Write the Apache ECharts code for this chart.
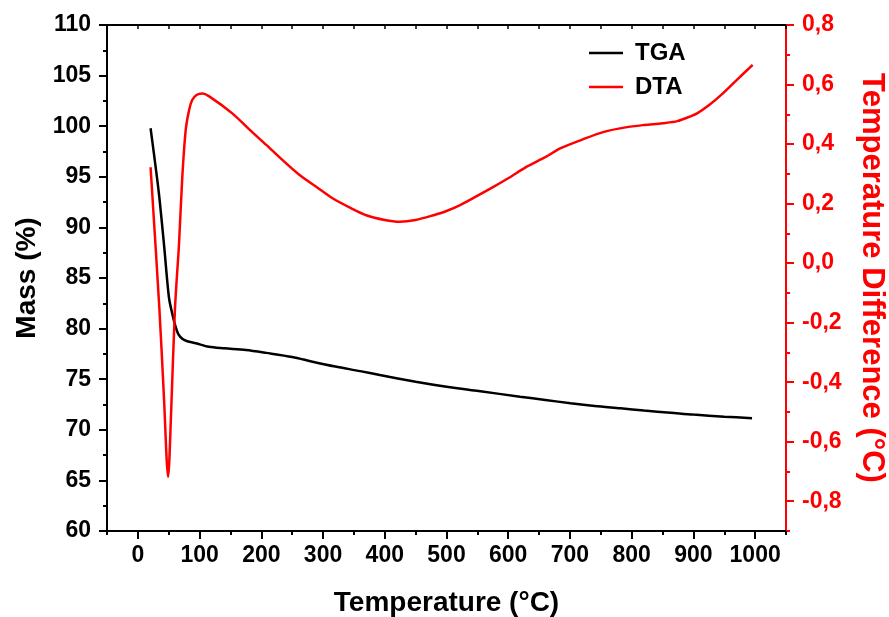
<!DOCTYPE html>
<html>
<head>
<meta charset="utf-8">
<script src="https://cdn.jsdelivr.net/npm/echarts@6/dist/echarts.min.js"></script>
<style>html,body{margin:0;padding:0;background:#fff}#c{width:889px;height:617px}</style>
</head>
<body>
<div id="c"></div>
<script>
// TGA: temperature (°C) and mass (%)
const tgaTemp = [20.6,26,34.1,42.2,50.3,56,61.1,66,72,80,94,115,140,175,208,250,283,320,360,392,450,500,538,552,619,660,701,740,782,820,863,900,950,995];
const tgaMass = [99.8,97.3,93.35,88.4,83.1,81.4,80.2,79.4,79.0,78.75,78.55,78.2,78.05,77.88,77.6,77.2,76.73,76.25,75.8,75.41,74.75,74.25,73.93,73.83,73.27,72.95,72.62,72.35,72.12,71.9,71.69,71.5,71.3,71.14];
// DTA: temperature (°C) and temperature difference (°C)
const dtaTemp = [20.6,35,42,49,54,60,66.7,72,77.5,83,88,95,104.6,115,153,180,208,235,262,290,316,345,370,400,424,450,479,500,522,549,576,600,630,660,685,720,755,790,820,850,874,895,906,925,945,970,996];
const dtaDiff = [0.322,-0.158,-0.44,-0.718,-0.494,-0.158,0.066,0.29,0.447,0.514,0.548,0.565,0.570,0.561,0.503,0.45,0.397,0.345,0.296,0.255,0.217,0.185,0.161,0.145,0.139,0.145,0.161,0.175,0.195,0.225,0.256,0.285,0.324,0.356,0.386,0.415,0.441,0.456,0.464,0.47,0.477,0.493,0.503,0.53,0.565,0.615,0.666];
// Axis tick labels
const xMajorTicks = [0,100,200,300,400,500,600,700,800,900,1000];
const yRightMajorTicks = [-0.8,-0.6,-0.4,-0.2,0,0.2,0.4,0.6,0.8];

const FONT = "'Liberation Sans', Arial, sans-serif";
const RED = '#ff0000';
const chart = echarts.init(document.getElementById('c'), null, {renderer:'canvas'});
const pairs = (a,b) => a.map((v,i)=>[v,b[i]]);

chart.setOption({
  animation:false,
  backgroundColor:'#fff',
  grid:{left:107,right:103,top:25,bottom:86,containLabel:false,outerBoundsMode:'none'},
  legend:{
    orient:'vertical', left:584, top:36, itemGap:10, itemWidth:34, itemHeight:2.5, icon:'rect',
    data:['TGA','DTA'],
    textStyle:{fontFamily:FONT,fontWeight:'bold',fontSize:24,color:'#000',padding:[0,0,0,7]}
  },
  xAxis:[
    {type:'value',min:-50,max:1050,interval:50,position:'bottom',
     name:'Temperature (°C)',nameLocation:'middle',nameGap:58,
     nameTextStyle:{fontFamily:FONT,fontWeight:'bold',fontSize:28,color:'#000'},
     axisLine:{show:true,onZero:false,lineStyle:{color:'#000',width:2}},
     axisTick:{show:true,inside:false,length:4,lineStyle:{color:'#000',width:2}},
     axisLabel:{show:true,margin:13,fontFamily:FONT,fontWeight:'bold',fontSize:23,color:'#000',
       formatter:v=>xMajorTicks.indexOf(Math.round(v))>=0?String(Math.round(v)):''},
     splitLine:{show:false}},
    {type:'value',min:-50,max:1050,position:'bottom',gridIndex:0,
     axisLine:{show:false,onZero:false},
     axisTick:{show:true,inside:false,length:8,customValues:xMajorTicks,lineStyle:{color:'#000',width:2}},
     axisLabel:{show:false},splitLine:{show:false}},
    {type:'value',min:-50,max:1050,interval:50,position:'top',
     axisLine:{show:true,onZero:false,lineStyle:{color:'#000',width:2}},
     axisTick:{show:true,inside:true,length:4,lineStyle:{color:'#000',width:1.5}},
     axisLabel:{show:false},splitLine:{show:false}}
  ],
  yAxis:[
    {type:'value',min:60,max:110,interval:5,position:'left',
     name:'Mass (%)',nameLocation:'middle',nameGap:65,
     nameTextStyle:{fontFamily:FONT,fontWeight:'bold',fontSize:28,color:'#000'},
     axisLine:{show:true,onZero:false,lineStyle:{color:'#000',width:2}},
     axisTick:{show:true,inside:false,length:8,lineStyle:{color:'#000',width:2}},
     minorTick:{show:true,splitNumber:2,length:4,lineStyle:{color:'#000',width:2}},
     axisLabel:{margin:16,fontFamily:FONT,fontWeight:'bold',fontSize:23,color:'#000'},
     splitLine:{show:false}},
    {type:'value',min:-0.9,max:0.8,interval:0.1,position:'right',
     name:'Temperature Difference (°C)',nameLocation:'middle',nameGap:70,nameRotate:-90,
     nameTextStyle:{fontFamily:FONT,fontWeight:'bold',fontSize:31,color:RED},
     axisLine:{show:true,onZero:false,lineStyle:{color:RED,width:2}},
     axisTick:{show:true,inside:false,length:4,lineStyle:{color:RED,width:2}},
     axisLabel:{margin:16,fontFamily:FONT,fontWeight:'bold',fontSize:23,color:RED,
       formatter:v=>{const k=Math.round(v*10); if(k%2!==0) return ''; return (k/10).toFixed(1).replace('.',',');}},
     splitLine:{show:false}},
    {type:'value',min:-0.9,max:0.8,position:'right',
     axisLine:{show:false,onZero:false},
     axisTick:{show:true,inside:false,length:8,customValues:yRightMajorTicks,lineStyle:{color:RED,width:2}},
     axisLabel:{show:false},splitLine:{show:false}}
  ],
  series:[
    {name:'TGA',type:'line',xAxisIndex:0,yAxisIndex:0,data:pairs(tgaTemp,tgaMass),
     showSymbol:false,symbol:'none',smooth:0.3,lineStyle:{color:'#000',width:2.5},itemStyle:{color:'#000'}},
    {name:'DTA',type:'line',xAxisIndex:0,yAxisIndex:1,data:pairs(dtaTemp,dtaDiff),
     showSymbol:false,symbol:'none',smooth:0.3,lineStyle:{color:RED,width:2.5},itemStyle:{color:RED}}
  ]
});
</script>
</body>
</html>
